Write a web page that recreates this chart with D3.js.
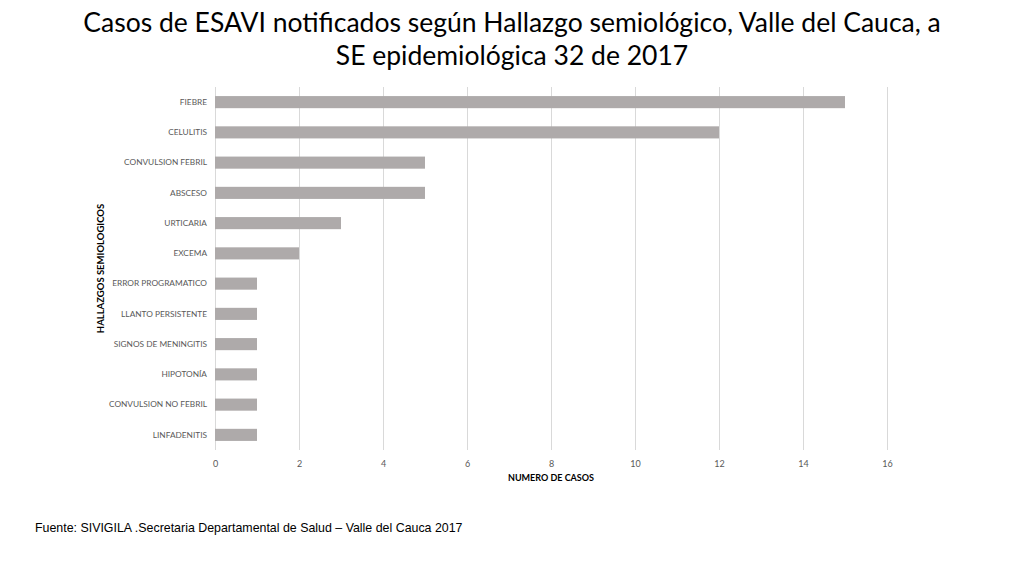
<!DOCTYPE html>
<html>
<head>
<meta charset="utf-8">
<script src="https://cdn.jsdelivr.net/npm/d3@7"></script>
<style>
  body { margin: 0; background: #fff; }
  .tick text { font-family: Lato, "Open Sans", sans-serif; }
</style>
</head>
<body>
<div id="chart"></div>
<script>
//Data
var categories = ["FIEBRE", "CELULITIS", "CONVULSION FEBRIL", "ABSCESO", "URTICARIA", "EXCEMA",
                  "ERROR PROGRAMATICO", "LLANTO PERSISTENTE", "SIGNOS DE MENINGITIS", "HIPOTONÍA ",
                  "CONVULSION NO FEBRIL", "LINFADENITIS"]
var casos = [15, 12, 5, 5, 3, 2, 1, 1, 1, 1, 1, 1]
var xTicks = [0, 2, 4, 6, 8, 10, 12, 14, 16]

var width = 1024
var height = 576

var margin = { top: 87, left: 215, right: 137, bottom: 126 }

var svg = d3.select("#chart")
            .append("svg")
            .attr("width", width)
            .attr("height", height)

//Title, two centered lines
var titleLines = ["Casos de ESAVI notificados según Hallazgo semiológico, Valle del Cauca, a",
                  "SE epidemiológica 32 de 2017"]
var title = svg.append("text")
               .attr("text-anchor", "middle")
               .style("font-family", "Lato, 'Open Sans', sans-serif")
               .style("font-size", "28px")
               .attr("fill", "#000")
title.selectAll("tspan")
     .data(titleLines)
     .enter()
     .append("tspan")
     .attr("x", 512)
     .attr("y", function (d, i) { return 32 + i * 33 })
     .text(function (d) { return d })

//Fit the first line to the width in the picture
var firstLen = title.select("tspan").node().getComputedTextLength()
title.style("font-size", (28 * 858 / firstLen) + "px")

var g = svg.append("g")
           .attr("transform", "translate(" + margin.left + "," + margin.top + ")")

var w = width - margin.left - margin.right
var h = height - margin.top - margin.bottom

var x = d3.scaleLinear()
          .domain([0, 16])
          .range([0, w])

var y = d3.scaleBand()
          .domain(categories)
          .range([0, h])
          .paddingInner(0.6)
          .paddingOuter(0.3)

//Grid lines
g.append("g")
 .attr("class", "grid")
 .call(d3.axisBottom(x).tickValues(xTicks).tickSize(h).tickFormat(""))
 .call(function (s) {
   s.select(".domain").remove()
   s.selectAll("line").attr("stroke", "#d9d9d9").attr("stroke-width", 1)
 })

//Bars
g.selectAll(".bar")
 .data(casos)
 .enter()
 .append("rect")
 .attr("class", "bar")
 .attr("x", x(0))
 .attr("y", function (d, i) { return y(categories[i]) })
 .attr("width", function (d) { return x(d) - x(0) })
 .attr("height", y.bandwidth())
 .attr("fill", "#aeaaaa")

//X axis labels
g.append("g")
 .attr("transform", "translate(0," + (h + 5) + ")")
 .call(d3.axisBottom(x).tickValues(xTicks).tickSize(0).tickPadding(6))
 .call(function (s) {
   s.select(".domain").remove()
   s.selectAll("text").attr("fill", "#595959").style("font-size", "9px")
 })

//Y axis labels
g.append("g")
 .call(d3.axisLeft(y).tickSize(0).tickPadding(8))
 .call(function (s) {
   s.select(".domain").remove()
   s.selectAll("text").attr("fill", "#595959").style("font-size", "8.3px")
 })

//Axis titles
svg.append("text")
   .text("NUMERO DE CASOS")
   .attr("x", margin.left + w / 2)
   .attr("y", 481)
   .attr("text-anchor", "middle")
   .style("font-family", "Lato, 'Open Sans', sans-serif")
   .style("font-size", "9px")
   .style("font-weight", "bold")
   .attr("fill", "#000")

svg.append("text")
   .text("HALLAZGOS SEMIOLOGICOS")
   .attr("transform", "translate(104," + (margin.top + h / 2) + ") rotate(-90)")
   .attr("text-anchor", "middle")
   .style("font-family", "Lato, 'Open Sans', sans-serif")
   .style("font-size", "9.5px")
   .style("font-weight", "bold")
   .attr("fill", "#000")

//Source note
svg.append("text")
   .text("Fuente: SIVIGILA .Secretaria Departamental de Salud – Valle del Cauca 2017")
   .attr("x", 35)
   .attr("y", 532)
   .style("font-family", "'Liberation Sans', Arial, sans-serif")
   .style("font-size", "12.4px")
   .attr("fill", "#000")
</script>
</body>
</html>
